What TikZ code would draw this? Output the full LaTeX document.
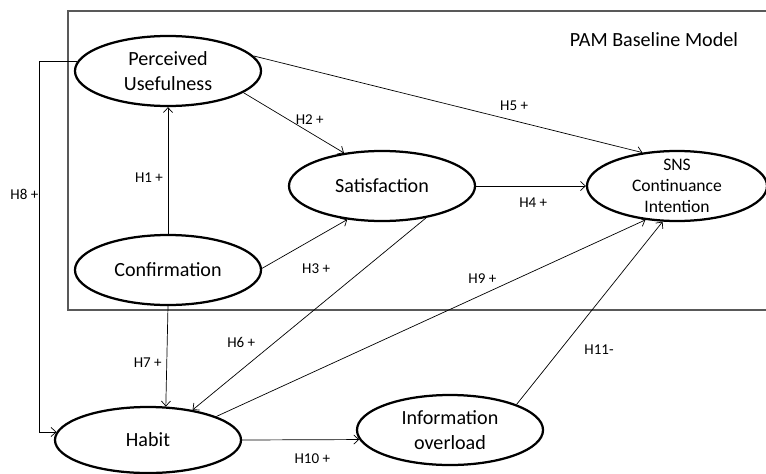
\documentclass[tikz,border=0pt]{standalone}
\usepackage{fontspec}
\setmainfont{Carlito}
\usetikzlibrary{shapes.geometric,arrows.meta}

\tikzset{
  construct/.style={ellipse, draw, line width=1.6pt, minimum width=4.65cm, minimum height=1.75cm,
    inner sep=0pt, align=center, font=\fontsize{14.3}{18}\selectfont},
  hyp/.style={->, line width=0.5pt},
  hlabel/.style={font=\fontsize{10.7}{12}\selectfont}
}

\begin{document}
\begin{tikzpicture}[x=0.025cm,y=-0.025cm,>={Straight Barb[length=3.5pt,width=6.5pt]}]
\useasboundingbox (0,0) rectangle (766,473);

% baseline model frame
\draw[black!65, line width=0.8pt] (68,11) rectangle (770,310);
\node(pam) at (654,40) {\fontsize{14.3}{18}\selectfont PAM Baseline Model};

\node[construct](pu) at (168,71) {Perceived\\Usefulness};
\node[construct](sat) at (382,186) {Satisfaction};
\node[construct, font=\fontsize{12.5}{15}\selectfont, inner ysep=-4pt, minimum width=4.5cm](sns) at (677,186) {SNS\\Continuance\\Intention};
\node[construct](conf) at (168,270) {Confirmation};
\node[construct, minimum height=1.65cm](habit) at (148,440) {Habit};
\node[construct](info) at (450,430) {Information\\overload};

\draw[hyp](conf.90)--(pu.-90) node[pos=0.44,left,hlabel]{H1 +};
\draw[hyp](pu.-16)--(sat.139) node[pos=0.66,above=2pt,hlabel]{H2 +};
\draw[hyp](conf.1)--(sat.-136) node[pos=0.635,below=15pt,hlabel]{H3 +};
\draw[hyp](sat.0)--(sns.180) node[pos=0.52,below=5pt,hlabel]{H4 +};
\draw[hyp](pu.10)--(sns.136) node[pos=0.67,above=3.5pt,hlabel]{H5 +};
\draw[hyp](sat.-36)--(habit.34) node[pos=0.65,left=10pt,hlabel]{H6 +};
\draw[hyp](conf.-90)--(habit.62) node[pos=0.56,left,hlabel]{H7 +};
\draw[hyp](pu.174)-- ++(-38,0) |- (habit.175) node[pos=0.18,left=-3pt,hlabel]{H8 +};
\draw[hyp](habit.19)--(sns.-133) node[pos=0.62,above=4pt,hlabel]{H9 +};
\draw[hyp](habit.0)--(info.186) node[pos=0.6,below=6.5pt,hlabel]{H10 +};
\draw[hyp](info.21)--(sns.-112) node[pos=0.3,right=13.5pt,hlabel]{H11-};
\end{tikzpicture}
\end{document}
